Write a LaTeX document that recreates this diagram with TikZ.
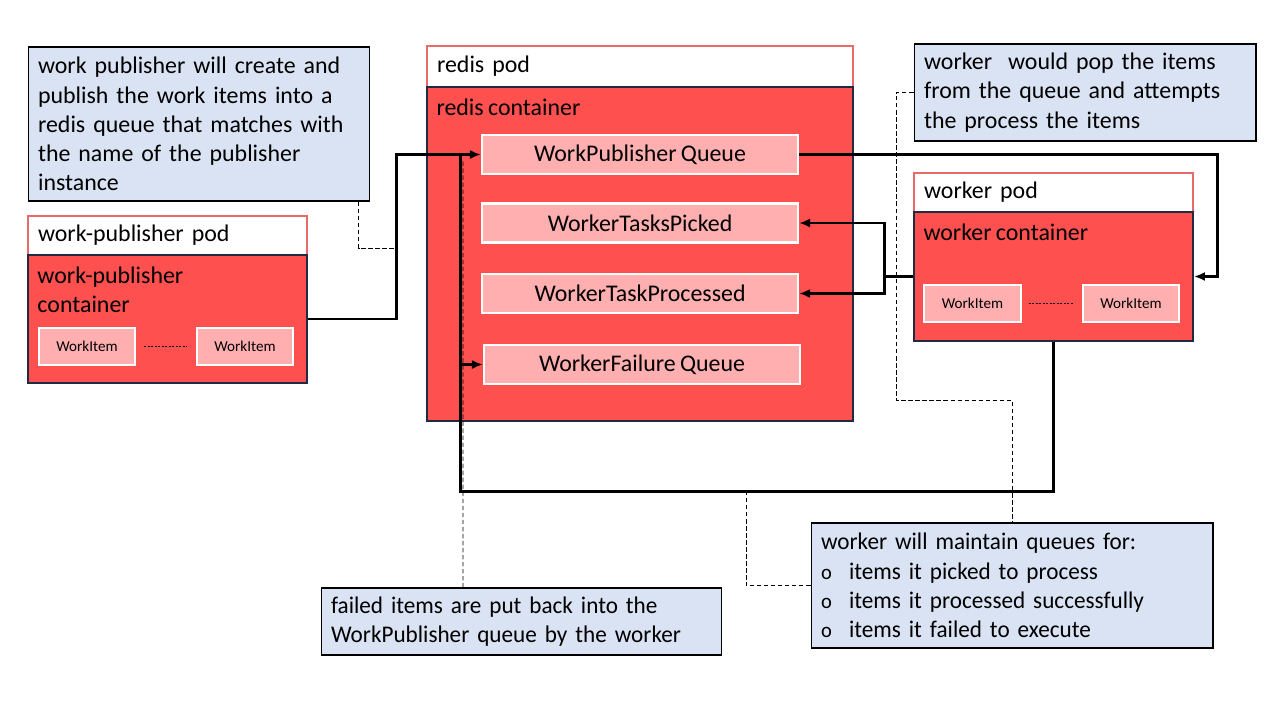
\documentclass[tikz,border=0pt]{standalone}
\usepackage{fontspec}
\setmainfont[WordSpace=0.8]{Carlito}
\newfontfamily\narrowfont[FakeStretch=0.97,WordSpace=0.75]{Carlito}
\usepackage{xcolor}
\usetikzlibrary{positioning,arrows.meta,calc}
\definecolor{podedge}{HTML}{E86A6A}
\definecolor{redisred}{HTML}{FF5050}
\definecolor{boxnavy}{HTML}{1F2A44}
\definecolor{queuepink}{HTML}{FFAFAF}
\definecolor{noteblue}{HTML}{DAE3F3}
\newcommand{\bigtext}{\fontsize{13.6}{16.6}\selectfont}
\newcommand{\smalltext}{\fontsize{8.6}{10}\selectfont}
\newcommand{\ring}{\makebox[0.56cm][l]{\fontsize{12}{12}\selectfont o}}

\begin{document}
\begin{tikzpicture}[x=0.02cm,y=-0.02cm,
    pod/.style={draw=podedge,fill=white,line width=1pt,minimum height=0.8cm,align=left,inner xsep=0.2cm,font=\bigtext},
    container/.style={draw=boxnavy,fill=redisred,line width=1pt},
    queue/.style={draw=white,fill=queuepink,line width=1.2pt,minimum width=6.32cm,minimum height=0.78cm,font=\bigtext},
    item/.style={draw=white,fill=queuepink,line width=1.2pt,minimum width=1.93cm,minimum height=0.74cm,font=\smalltext},
    note/.style={draw=black,fill=noteblue,line width=0.6pt,align=left,inner xsep=0.2cm,font=\bigtext},
    flow/.style={line width=1.7pt,-{Latex[length=0.22cm,width=0.18cm]}},
    wire/.style={line width=1.7pt},
    callout/.style={line width=0.5pt,dash pattern=on 2.5pt off 1.5pt},
    dots/.style={line width=1.1pt,dash pattern=on 1pt off 1pt}]
    \useasboundingbox (0,0) rectangle (1280,720);

    % notes
    \node[note,text width=6.44cm,minimum height=3.08cm] (pubnote) at (199,124)
        {work publisher will create and\\publish the work items into a\\redis queue that matches with\\the name of the publisher\\instance};
    \node[note,text width=6.44cm,minimum height=1.94cm] (workernote) at (1085,92.5)
        {worker\ \ would pop the items\\from the queue and attempts\\the process the items};
    \node[note,text width=7.62cm,minimum height=1.34cm,font=\bigtext\narrowfont] (failnote) at (521.5,621.5)
        {failed items are put back into the\\WorkPublisher queue by the worker};
    \node[note,text width=7.64cm,minimum height=2.5cm,font=\bigtext\narrowfont] (queuenote) at (1012,585.5)
        {worker will maintain queues for:\\
         \ring items it picked to process\\
         \ring items it processed successfully\\
         \ring items it failed to execute};

    % work-publisher pod
    \node[pod,text width=5.18cm,minimum height=0.78cm] (pubpod) at (167.5,235.5) {work-publisher pod};
    \node[container,minimum width=5.58cm,minimum height=2.56cm,
          label={[anchor=north west,align=left,font=\bigtext,inner xsep=0.2cm,inner ysep=0.24cm]north west:work-publisher\\container}]
          (pubbox) at (167.5,319) {};
    \node[item] (pubitemA) at (87,346.5) {WorkItem};
    \node[item] (pubitemB) at (245,346.5) {WorkItem};
    \draw[dots] ([xshift=0.16cm]pubitemA.east) -- ([xshift=-0.18cm]pubitemB.west);

    % redis pod
    \node[pod,text width=8.12cm,minimum height=0.82cm] (redispod) at (640,66.5) {redis pod};
    \node[container,minimum width=8.52cm,minimum height=6.68cm,
          label={[anchor=north west,font=\bigtext,inner xsep=0.2cm,inner ysep=0.24cm]north west:redis container}]
          (redisbox) at (640,254) {};
    \node[queue] (qpub)       at (640,154.5) {WorkPublisher Queue};
    \node[queue] (qpicked)    at (640,223)   {WorkerTasksPicked};
    \node[queue] (qprocessed) at (640,293.5) {WorkerTaskProcessed};
    \node[queue] (qfail)      at (642,364.5) {WorkerFailure Queue};

    % worker pod
    \node[pod,text width=5.18cm,minimum height=0.78cm] (workerpod) at (1053.5,192.5) {worker pod};
    \node[container,minimum width=5.58cm,minimum height=2.58cm,
          label={[anchor=north west,font=\bigtext,inner xsep=0.2cm,inner ysep=0.24cm]north west:worker container}]
          (workerbox) at (1053.5,276.5) {};
    \node[item] (workitemA) at (972.5,303.5) {WorkItem};
    \node[item] (workitemB) at (1131,303.5)  {WorkItem};
    \draw[dots] ([xshift=0.14cm]workitemA.east) -- ([xshift=-0.18cm]workitemB.west);

    % callouts
    \draw[callout] ([xshift=-0.24cm]pubnote.south east) |- (396,248);
    \draw[callout] (workernote.west) -- (896,92.5) -- (896,400) -| (queuenote.north);
    \draw[callout] (746,491) |- (queuenote.west);
    \draw[callout] ([xshift=-1.17cm]failnote.north) -- (463,160);

    % queue traffic
    \coordinate (split) at (884,276.5);
    \coordinate (back)  at (460,491);
    \draw[flow] (pubbox.east) -- ++(89,0) |- (qpub.west);
    \draw[flow] (qpub.east) -- (1217,154.5) |- (workerbox.east);
    \draw[wire] (workerbox.west) -- (split);
    \draw[flow] (split) |- (qpicked.east);
    \draw[flow] (split) |- (qprocessed.east);
    \draw[wire] (workerbox.south) |- (back) -- (460,154.5);
    \draw[flow] (qfail.west -| back) -- (qfail.west);
\end{tikzpicture}
\end{document}
